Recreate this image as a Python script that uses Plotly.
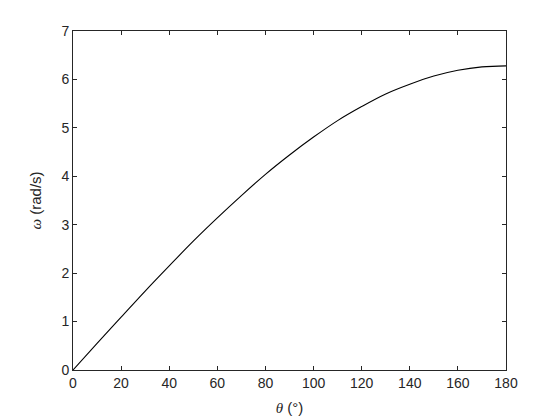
import plotly.graph_objects as go

# angle (deg) and angular velocity (rad/s)
theta = [0, 10, 20, 30, 40, 50, 60, 70, 80, 90,
         100, 110, 120, 130, 140, 150, 160, 170, 180]
omega = [0, 0.55, 1.09, 1.63, 2.15, 2.66, 3.14, 3.60, 4.04, 4.44,
         4.81, 5.15, 5.44, 5.70, 5.90, 6.07, 6.19, 6.26, 6.28]

x_ticks = [0, 20, 40, 60, 80, 100, 120, 140, 160, 180]
y_ticks = [0, 1, 2, 3, 4, 5, 6, 7]

fig = go.Figure(go.Scatter(
    x=theta, y=omega, mode="lines",
    line=dict(color="black", width=1.1, shape="spline"),
    showlegend=False,
))

axis_style = dict(
    showgrid=False, zeroline=False,
    showline=True, linecolor="#262626", linewidth=1, mirror="ticks",
    ticks="inside", ticklen=4, tickcolor="#262626",
    tickfont=dict(family="Liberation Sans, Arial", size=14, color="#262626"),
)

greek = '<span style="font-family:Liberation Serif, Times New Roman"><i>%s</i></span>'
title_font = dict(family="Liberation Sans, Arial", size=15, color="#262626")

fig.update_layout(
    width=560, height=420,
    margin=dict(l=65, r=62, t=23, b=58),
    paper_bgcolor="white", plot_bgcolor="white",
    xaxis=dict(range=[0, 180], tickvals=x_ticks,
               title=dict(text=greek % "θ" + " (°)", standoff=12, font=title_font),
               **axis_style),
    yaxis=dict(range=[0, 7], tickvals=y_ticks,
               title=dict(text=greek % "ω" + " (rad/s)", standoff=16, font=title_font),
               **axis_style),
)

fig.write_html("out.html")
